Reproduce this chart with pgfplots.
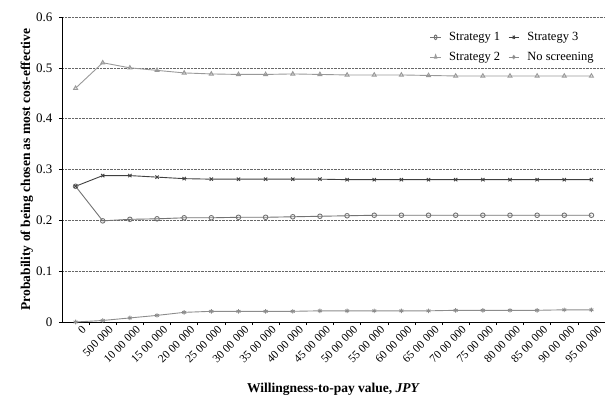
\documentclass[border=0pt]{standalone}
\usepackage{fontspec}
\setmainfont{Liberation Serif}
\usepackage{pgfplots}
\pgfplotsset{compat=1.18}
\begin{document}
\begin{tikzpicture}
\begin{axis}[
  name=ax,
  width=543pt, height=305pt, scale only axis,
  xmin=-0.5, xmax=19.5, ymin=0, ymax=0.6,
  axis x line*=bottom, axis y line*=left,
  axis line style={black, line width=0.8pt, -},
  xtick={0,...,19},
  xticklabels={0,500 000,10 00 000,15 00 000,20 00 000,25 00 000,30 00 000,35 00 000,40 00 000,45 00 000,50 00 000,55 00 000,60 00 000,65 00 000,70 00 000,75 00 000,80 00 000,85 00 000,90 00 000,95 00 000},
  x tick label style={rotate=45, anchor=north east, font=\fontsize{11.5}{12}\selectfont, inner sep=1pt, xshift=5pt, yshift=-3pt},
  major x tick style={draw=none},
  minor xtick={0.5,1.5,...,18.5},
  minor x tick style={black, line width=0.6pt},
  minor tick length=3pt,
  ytick={0,0.1,...,0.6},
  yticklabel style={font=\fontsize{13}{14}\selectfont, xshift=-3pt},
  yticklabels={0,0.1,0.2,0.3,0.4,0.5,0.6},
  /pgf/number format/assume math mode=true,
  tick align=outside, tick style={black, line width=0.6pt},
  major tick length=3pt,
  ymajorgrids, grid style={black!60, densely dotted, line width=0.6pt},
  ylabel={\textbf{Probability of being chosen as most cost-effective}},
  ylabel style={font=\fontsize{13.5}{14}\selectfont, at={(axis description cs:-0.0645,0.5)}, anchor=center},
  xlabel={\textbf{Willingness-to-pay value, \textit{JPY}}},
  xlabel style={font=\fontsize{13.5}{14}\selectfont, at={(axis description cs:0.5,-0.22)}, anchor=center},
  legend style={at={(0.985,0.96)}, anchor=north east, draw=none, fill=white, font=\fontsize{12.5}{13}\selectfont, legend columns=2, column sep=6pt, row sep=6pt, inner sep=1pt},
  legend cell align=left,
  legend image post style={xscale=0.6},
  every axis plot/.append style={line width=0.9pt, mark size=2.3pt},
]
\addplot[black!55, mark=o, mark options={solid, line width=0.9pt}] coordinates {
(0,0.267)(1,0.199)(2,0.202)(3,0.203)(4,0.205)(5,0.205)(6,0.206)(7,0.206)(8,0.207)(9,0.208)
(10,0.209)(11,0.210)(12,0.210)(13,0.210)(14,0.210)(15,0.210)(16,0.210)(17,0.210)(18,0.210)(19,0.210)};
\addlegendentry{Strategy 1}
\addplot[black!75, mark=x, mark options={solid, line width=0.9pt}] coordinates {
(0,0.267)(1,0.288)(2,0.288)(3,0.285)(4,0.282)(5,0.281)(6,0.281)(7,0.281)(8,0.281)(9,0.281)
(10,0.280)(11,0.280)(12,0.280)(13,0.280)(14,0.280)(15,0.280)(16,0.280)(17,0.280)(18,0.280)(19,0.280)};
\addlegendentry{Strategy 3}
\addplot[black!40, mark=triangle, mark options={solid, line width=0.9pt}] coordinates {
(0,0.460)(1,0.510)(2,0.500)(3,0.495)(4,0.490)(5,0.488)(6,0.487)(7,0.487)(8,0.488)(9,0.487)
(10,0.486)(11,0.486)(12,0.486)(13,0.485)(14,0.484)(15,0.484)(16,0.484)(17,0.484)(18,0.484)(19,0.484)};
\addlegendentry{Strategy 2}
\addplot[black!45, mark=asterisk, mark options={solid, line width=0.9pt}] coordinates {
(0,0.000)(1,0.003)(2,0.008)(3,0.013)(4,0.019)(5,0.021)(6,0.021)(7,0.021)(8,0.021)(9,0.022)
(10,0.022)(11,0.022)(12,0.022)(13,0.022)(14,0.023)(15,0.023)(16,0.023)(17,0.023)(18,0.024)(19,0.024)};
\addlegendentry{No screening}
\end{axis}
\path[use as bounding box] (ax.south west) ++(-62pt,-75pt) rectangle ([shift={(2pt,17pt)}]ax.north east);
\end{tikzpicture}
\end{document}
